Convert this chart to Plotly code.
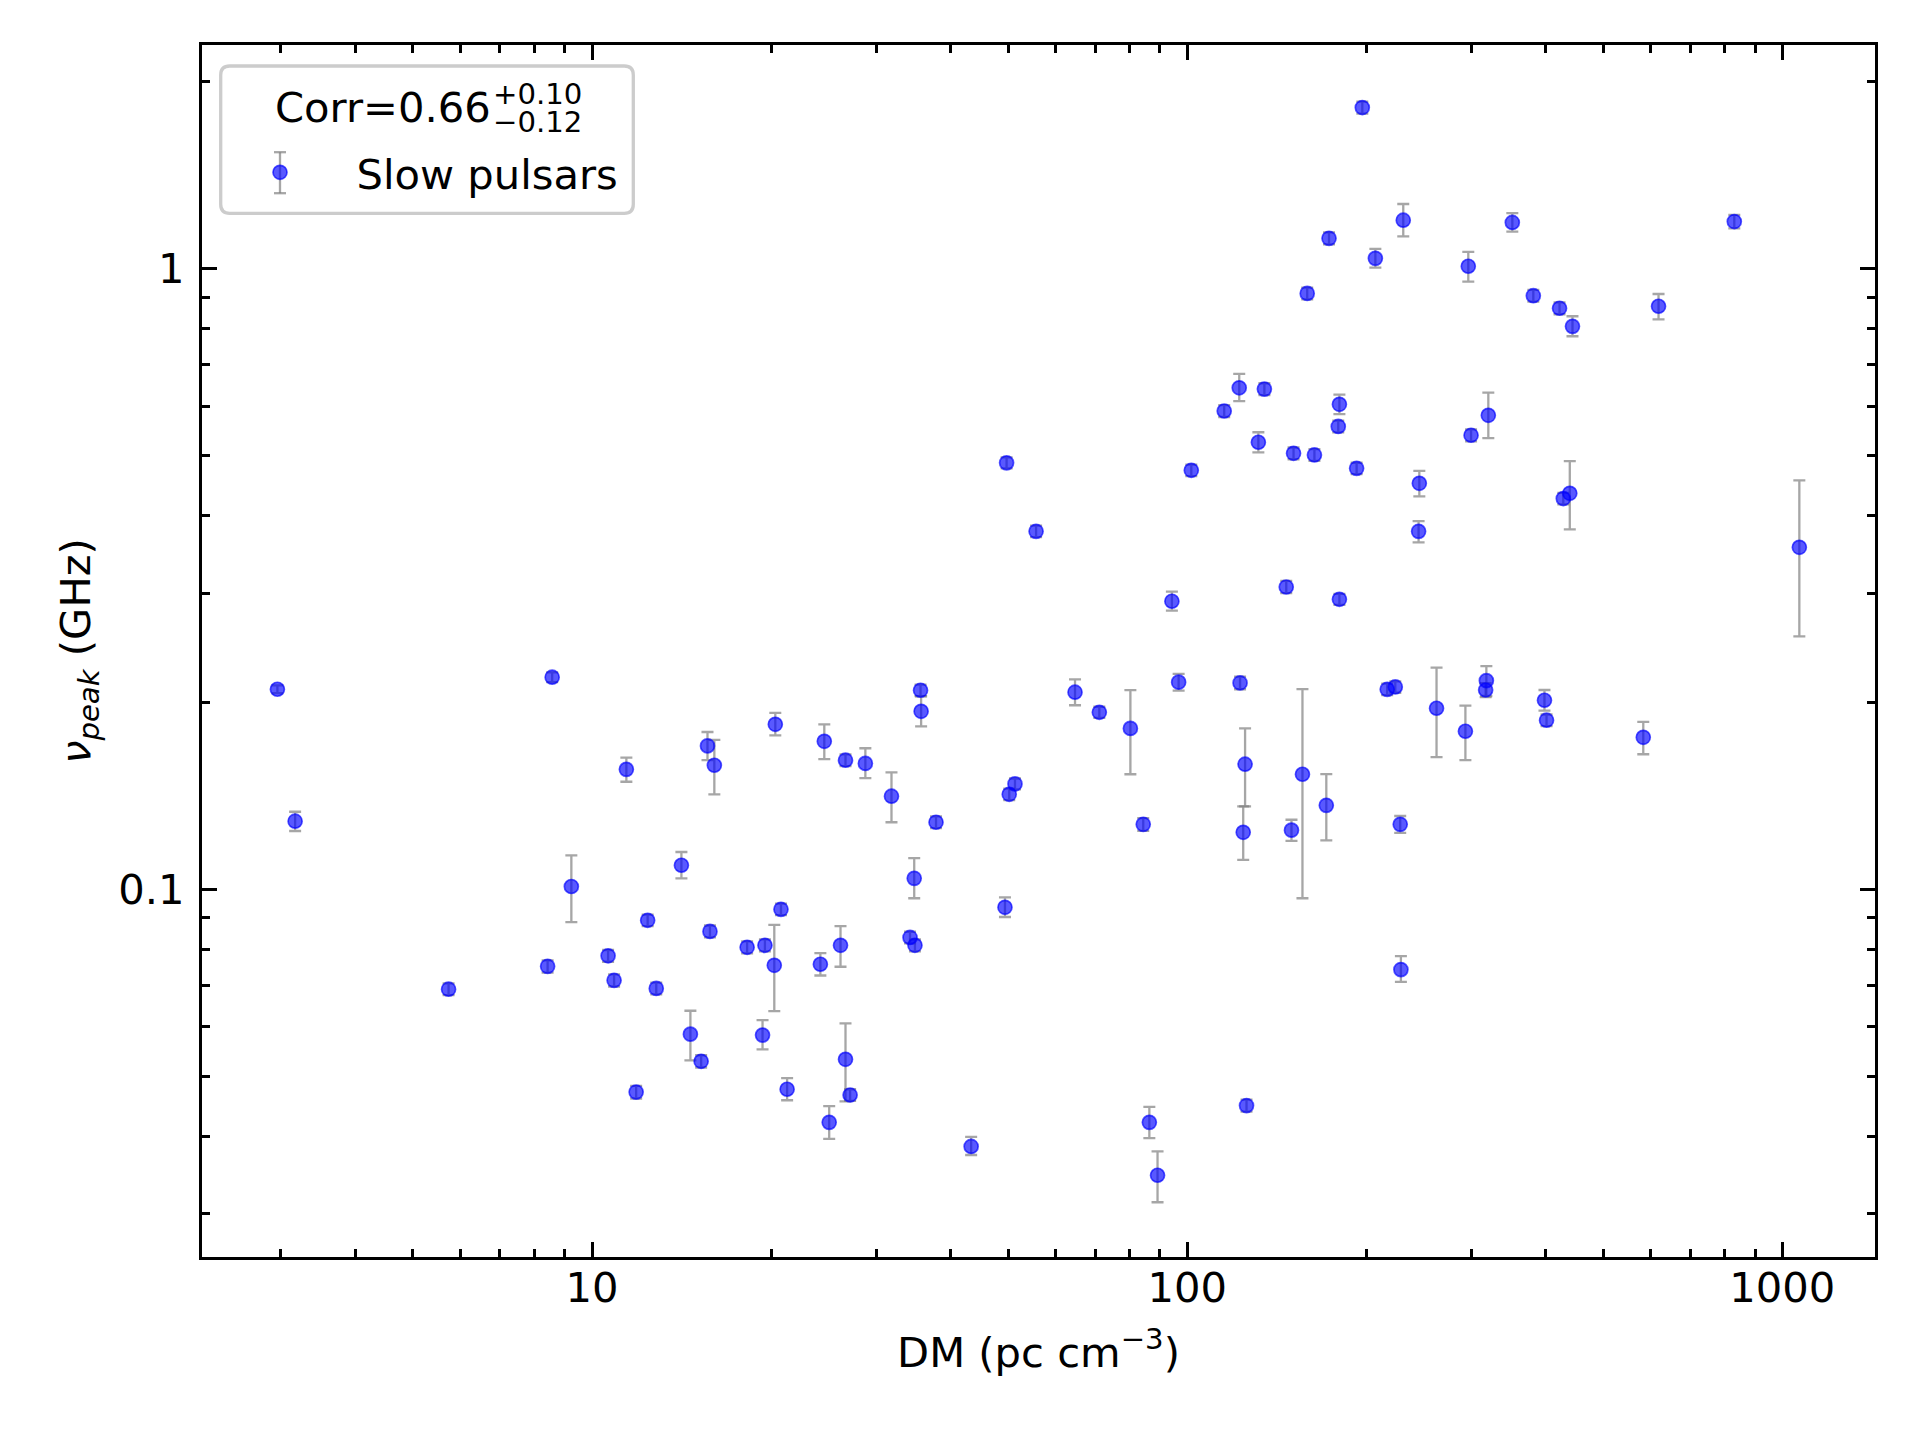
import plotly.graph_objects as go

# ---------------- data ----------------
dm = [2.96, 3.17, 5.74, 8.42, 8.57, 9.23, 10.64, 10.89, 11.42, 11.86,
      12.40, 12.82, 14.13, 14.63, 15.25, 15.63, 15.78, 16.05, 18.22, 19.34,
      19.52, 20.32, 20.24, 20.77, 21.27, 24.19, 24.56, 25.03, 26.15, 26.66,
      26.66, 27.14, 28.79, 31.85, 34.22, 34.78, 34.88, 35.64, 35.72, 37.84,
      43.35, 49.41, 49.72, 50.23, 51.36, 55.73, 64.79, 71.18, 80.27, 84.36,
      86.38, 89.16, 94.25, 96.74, 101.6, 115.4, 122.3, 122.7, 125.1, 124.2,
      125.8, 131.7, 134.8, 146.7, 149.7, 150.9, 156.2, 159.1, 163.6, 171.3,
      173.1, 180.2, 179.4, 180.2, 192.6, 196.9, 207.1, 216.8, 223.7, 228.0,
      228.6, 230.7, 245.5, 244.8, 262.4, 293.4, 296.7, 299.9, 318.2, 317.3,
      320.6, 351.8, 381.6, 398.4, 401.6, 422.3, 428.5, 439.4, 444.0, 583.9,
      619.4, 830.4, 1068.0]

nu_peak = [0.210, 0.1287, 0.0690, 0.0751, 0.2196, 0.1010, 0.0781, 0.0713, 0.1560, 0.0471,
           0.0891, 0.0692, 0.1093, 0.0584, 0.0528, 0.1702, 0.0855, 0.1584, 0.0806, 0.0582,
           0.0812, 0.1844, 0.0754, 0.0928, 0.0476, 0.0757, 0.1731, 0.0421, 0.0812, 0.1614,
           0.0532, 0.0466, 0.1595, 0.1412, 0.0836, 0.1041, 0.0812, 0.2092, 0.1935, 0.1282,
           0.0385, 0.0935, 0.4865, 0.1422, 0.1478, 0.3773, 0.2077, 0.1928, 0.1816, 0.1272,
           0.0421, 0.0346, 0.2911, 0.2156, 0.4732, 0.5897, 0.6427, 0.2150, 0.1590, 0.1235,
           0.0448, 0.5251, 0.6396, 0.3069, 0.1245, 0.5040, 0.1532, 0.9123, 0.5009, 0.1365,
           1.119, 0.6045, 0.5568, 0.2932, 0.4766, 1.818, 1.039, 0.2099, 0.2118, 0.1272,
           0.0742, 1.197, 0.4509, 0.3773, 0.1957, 0.1797, 1.009, 0.5389, 0.2168, 0.2094,
           0.5803, 1.187, 0.9045, 0.2016, 0.1872, 0.8633, 0.4261, 0.4345, 0.8073, 0.1757,
           0.8697, 1.191, 0.3556]

nu_err_plus = [0.003, 0.0046, 0.0015, 0.0017, 0.004, 0.0124, 0.0017, 0.0016, 0.0069, 0.0011,
               0.0019, 0.0015, 0.0055, 0.0053, 0.0012, 0.0090, 0.0019, 0.0156, 0.0018, 0.0033,
               0.0018, 0.0079, 0.0122, 0.0020, 0.0020, 0.0032, 0.0113, 0.0026, 0.0060, 0.0035,
               0.0076, 0.0010, 0.0092, 0.0131, 0.0018, 0.0081, 0.0018, 0.0045, 0.0111, 0.0028,
               0.0014, 0.0035, 0.010, 0.003, 0.003, 0.008, 0.0102, 0.004, 0.0277, 0.003,
               0.0025, 0.0032, 0.0105, 0.0067, 0.010, 0.013, 0.034, 0.005, 0.0226, 0.0125,
               0.001, 0.0199, 0.014, 0.007, 0.0049, 0.011, 0.0569, 0.020, 0.011, 0.0168,
               0.025, 0.0221, 0.012, 0.006, 0.010, 0.040, 0.037, 0.0045, 0.0045, 0.004,
               0.0038, 0.074, 0.0212, 0.0146, 0.0318, 0.0179, 0.055, 0.012, 0.012, 0.0055,
               0.0508, 0.042, 0.020, 0.0078, 0.004, 0.019, 0.009, 0.0550, 0.0308, 0.0103,
               0.0406, 0.030, 0.1004]

nu_err_minus = [0.003, 0.0046, 0.0015, 0.0017, 0.004, 0.0125, 0.0017, 0.0016, 0.0070, 0.0011,
                0.0019, 0.0015, 0.0052, 0.0054, 0.0012, 0.0088, 0.0019, 0.0162, 0.0018, 0.0030,
                0.0018, 0.0074, 0.0118, 0.0020, 0.0019, 0.0031, 0.0111, 0.0025, 0.0062, 0.0035,
                0.0077, 0.0010, 0.0085, 0.0130, 0.0018, 0.0074, 0.0018, 0.0045, 0.0105, 0.0028,
                0.0012, 0.0033, 0.010, 0.003, 0.003, 0.008, 0.0098, 0.004, 0.0284, 0.003,
                0.0024, 0.0033, 0.0099, 0.0067, 0.010, 0.013, 0.031, 0.005, 0.0230, 0.0120,
                0.001, 0.0193, 0.014, 0.007, 0.0049, 0.011, 0.0565, 0.020, 0.011, 0.0166,
                0.025, 0.0218, 0.012, 0.006, 0.010, 0.040, 0.035, 0.0045, 0.0045, 0.004,
                0.0033, 0.070, 0.0212, 0.0151, 0.0324, 0.0183, 0.056, 0.012, 0.012, 0.0055,
                0.0472, 0.040, 0.020, 0.0076, 0.004, 0.019, 0.009, 0.0545, 0.0291, 0.0107,
                0.0411, 0.030, 0.1000]

series_name = "Slow pulsars"
corr_value = "Corr=0.66"
corr_plus = "+0.10"
corr_minus = "\u22120.12"

x_tick_vals = [10, 100, 1000]
x_tick_text = ["10", "100", "1000"]
x_minor_vals = [3, 4, 5, 6, 7, 8, 9, 20, 30, 40, 50, 60, 70, 80, 90,
                200, 300, 400, 500, 600, 700, 800, 900]
y_tick_vals = [0.1, 1]
y_tick_text = ["0.1", "1"]
y_minor_vals = [0.03, 0.04, 0.05, 0.06, 0.07, 0.08, 0.09,
                0.2, 0.3, 0.4, 0.5, 0.6, 0.7, 0.8, 0.9, 2]

# ---------------- layout constants (pixels) ----------------
W, H = 1920, 1440
L, R, T, B = 202, 1875, 45, 1257
FS = 41.67
FONT = "DejaVu Sans"
SPINE = 3.3


def pxx(x):
    return (x - L) / (R - L)


def pxy(y):
    return (B - y) / (B - T)


fig = go.Figure()
fig.add_trace(go.Scatter(
    x=dm, y=nu_peak, mode="markers", name=series_name,
    error_y=dict(type="data", symmetric=False, array=nu_err_plus,
                 arrayminus=nu_err_minus, color="rgba(128,128,128,0.7)",
                 thickness=2.3, width=6),
    marker=dict(size=14, color="rgba(0,0,255,0.65)",
                line=dict(color="rgba(0,0,255,0.65)", width=1.7)),
))

axis_common = dict(
    type="log", showline=True, linecolor="black", linewidth=SPINE,
    mirror="ticks", ticks="inside", ticklen=14.6, tickwidth=SPINE,
    tickcolor="black", showgrid=False, zeroline=False,
    tickfont=dict(family=FONT, size=FS, color="black"),
    automargin=False,
)

fig.update_xaxes(
    **axis_common, range=[0.3446, 3.1557],
    tickvals=x_tick_vals, ticktext=x_tick_text, ticklabelstandoff=-8,
    minor=dict(tickvals=x_minor_vals, ticks="inside", ticklen=8.3,
               tickwidth=2.5, tickcolor="black", showgrid=False),
    title=dict(text="DM (pc cm<sup>\u22123</sup>)",
               font=dict(family=FONT, size=FS, color="black"), standoff=27),
)
fig.update_yaxes(
    **axis_common, range=[-1.5927, 0.3604],
    tickvals=y_tick_vals, ticktext=y_tick_text, ticklabelstandoff=6,
    minor=dict(tickvals=y_minor_vals, ticks="inside", ticklen=8.3,
               tickwidth=2.5, tickcolor="black", showgrid=False),
    title=dict(text="<i>\u03bd</i><sub><i>peak</i></sub> (GHz)",
               font=dict(family=FONT, size=FS, color="black"), standoff=15),
)

# legend frame (rounded box)
bx0, bx1, by0, by1, rad = 220.7, 633.3, 66.0, 213.3, 9.0
rx, ry = rad / (R - L), rad / (B - T)
X0, X1, Y0, Y1 = pxx(bx0), pxx(bx1), pxy(by1), pxy(by0)
box_path = (f"M {X0+rx},{Y0} L {X1-rx},{Y0} Q {X1},{Y0} {X1},{Y0+ry} "
            f"L {X1},{Y1-ry} Q {X1},{Y1} {X1-rx},{Y1} L {X0+rx},{Y1} "
            f"Q {X0},{Y1} {X0},{Y1-ry} L {X0},{Y0+ry} Q {X0},{Y0} {X0+rx},{Y0} Z")
shapes = [dict(type="path", xref="paper", yref="paper", path=box_path,
               line=dict(color="rgb(204,204,204)", width=SPINE),
               fillcolor="rgba(255,255,255,0.8)", layer="above")]

# error-bar glyph of the legend handle
mx, my, eh, cw = 280.0, 172.7, 20.5, 6.0
gray = "rgba(128,128,128,0.7)"
shapes.append(dict(type="line", xref="paper", yref="paper",
                   x0=pxx(mx), x1=pxx(mx), y0=pxy(my - eh), y1=pxy(my + eh),
                   line=dict(color=gray, width=2.3), layer="above"))
for yy in (my - eh, my + eh):
    shapes.append(dict(type="line", xref="paper", yref="paper",
                       x0=pxx(mx - cw), x1=pxx(mx + cw), y0=pxy(yy), y1=pxy(yy),
                       line=dict(color=gray, width=2.3), layer="above"))

annotations = [
    dict(text=corr_value, xref="paper", yref="paper", x=pxx(273), y=pxy(107.5),
         xanchor="left", yanchor="middle", showarrow=False,
         font=dict(family=FONT, size=FS, color="black")),
    dict(text=corr_plus, xref="paper", yref="paper", x=pxx(491), y=pxy(94.4),
         xanchor="left", yanchor="middle", showarrow=False,
         font=dict(family=FONT, size=FS * 0.7, color="black")),
    dict(text=corr_minus, xref="paper", yref="paper", x=pxx(491), y=pxy(122.1),
         xanchor="left", yanchor="middle", showarrow=False,
         font=dict(family=FONT, size=FS * 0.7, color="black")),
]

fig.update_layout(
    width=W, height=H,
    margin=dict(l=L, r=W - R, t=T, b=H - B, pad=0),
    paper_bgcolor="white", plot_bgcolor="white",
    font=dict(family=FONT, size=FS, color="black"),
    showlegend=True,
    legend=dict(x=pxx(mx - 76.5), y=pxy(my), xanchor="left", yanchor="middle",
                bgcolor="rgba(0,0,0,0)", borderwidth=0, itemwidth=143,
                font=dict(family=FONT, size=FS, color="black")),
    shapes=shapes,
    annotations=annotations,
)

fig.write_html("out.html")
